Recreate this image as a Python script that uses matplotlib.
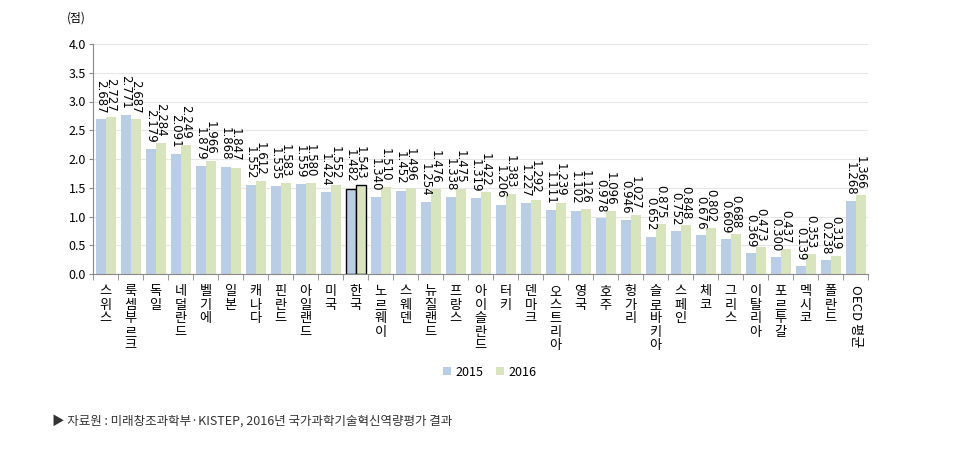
import numpy as np
import matplotlib.pyplot as plt

plt.rcParams['font.family'] = ['Noto Sans CJK KR', 'DejaVu Sans']

# 국가별 점수
countries = ['스위스', '룩셈부르크', '독일', '네덜란드', '벨기에', '일본', '캐나다', '핀란드',
             '아일랜드', '미국', '한국', '노르웨이', '스웨덴', '뉴질랜드', '프랑스', '아이슬란드',
             '터키', '덴마크', '오스트리아', '영국', '호주', '헝가리', '슬로바키아', '스페인',
             '체코', '그리스', '이탈리아', '포르투갈', '멕시코', '폴란드', 'OECD 평균']
v2015 = [2.687, 2.771, 2.179, 2.091, 1.879, 1.868, 1.552, 1.535, 1.559, 1.424, 1.482,
         1.340, 1.452, 1.254, 1.338, 1.319, 1.206, 1.227, 1.111, 1.102, 0.978, 0.946,
         0.652, 0.752, 0.676, 0.609, 0.369, 0.300, 0.139, 0.238, 1.268]
v2016 = [2.727, 2.687, 2.284, 2.249, 1.966, 1.847, 1.612, 1.583, 1.580, 1.552, 1.543,
         1.510, 1.496, 1.476, 1.475, 1.422, 1.383, 1.292, 1.239, 1.126, 1.096, 1.027,
         0.875, 0.848, 0.802, 0.688, 0.473, 0.437, 0.353, 0.319, 1.366]
years = ['2015', '2016']

c15 = '#b9cde5'
c16 = '#d7e4bd'

fig = plt.figure(figsize=(9.63, 4.55), dpi=100)
ax = fig.add_axes([93/963, 1-274/455, 775/963, 230/455])

x = np.arange(len(countries))
w = 0.4
edge = ['black' if c == '한국' else 'none' for c in countries]
b1 = ax.bar(x - w/2, v2015, w, color=c15, edgecolor=edge, linewidth=1, label=years[0])
b2 = ax.bar(x + w/2, v2016, w, color=c16, edgecolor=edge, linewidth=1, label=years[1])

for bars, vals in [(b1, v2015), (b2, v2016)]:
    for r, v in zip(bars, vals):
        ax.text(r.get_x() + r.get_width()/2, v + 0.1, f'{v:.3f}', rotation=-90,
                ha='center', va='bottom', fontsize=8.5, family='DejaVu Sans')

ax.set_xlim(-0.5, len(countries) - 0.5)
ax.set_ylim(0, 4.0)
ax.set_yticks(np.arange(0, 4.01, 0.5))
ax.set_yticklabels([f'{t:.1f}' for t in np.arange(0, 4.01, 0.5)], fontsize=9)
ax.yaxis.grid(True, color='#e6e6e6', linewidth=0.8)
ax.set_axisbelow(True)
for s in ['top', 'right']:
    ax.spines[s].set_visible(False)
ax.spines['left'].set_color('#888888')
ax.spines['bottom'].set_color('#888888')
ax.tick_params(axis='y', length=3, color='#888888', pad=2)

# x 라벨: 세로쓰기
ax.set_xticks(x)
labels = []
for c in countries:
    if c == 'OECD 평균':
        labels.append(c)
    else:
        labels.append('\n'.join(c))
ax.set_xticklabels(labels, fontsize=9.5, va='top', linespacing=1.05)
for t, c in zip(ax.get_xticklabels(), countries):
    if c == 'OECD 평균':
        t.set_rotation(-90)
        t.set_va('top')
ax.tick_params(axis='x', which='major', length=0, pad=8)
ax.set_xticks(np.arange(-0.5, len(countries), 1), minor=True)
ax.tick_params(axis='x', which='minor', length=4, color='#888888')

fig.text(67/963, 1-18/455, '(점)', fontsize=8.5, ha='left', va='center')

fig.legend(handles=[b1, b2], labels=years, loc='center', bbox_to_anchor=(490/963, 1-372/455),
           ncol=2, frameon=False, fontsize=9, handlelength=0.6, handleheight=0.6,
           columnspacing=1.0, handletextpad=0.4)

fig.text(52/963, 1-421/455, '▶ 자료원 : 미래창조과학부·KISTEP, 2016년 국가과학기술혁신역량평가 결과',
         fontsize=9, ha='left', va='center', color='#333333')

fig.savefig('out.png', dpi=100)
